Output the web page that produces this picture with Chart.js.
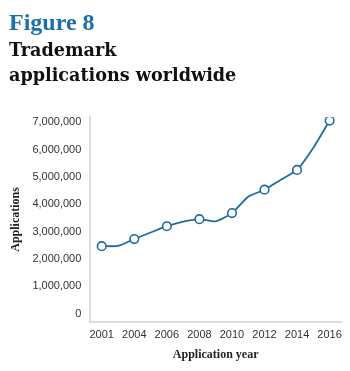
<!DOCTYPE html>
<html>
<head>
<meta charset="utf-8">
<script src="https://cdn.jsdelivr.net/npm/chart.js@4/dist/chart.umd.min.js"></script>
<style>
  html, body { margin: 0; padding: 0; background: #fff; }
  #wrap { position: relative; width: 350px; height: 371px; }
  #head { position: absolute; left: 9px; top: 7px; font-weight: bold; }
  #fig { color: #1b72a8; font-family: "Liberation Serif", serif; font-size: 24px; line-height: 30px; }
  #ttl { color: #111; font-family: "DejaVu Serif", serif; font-size: 17.6px; line-height: 25px; }
  canvas { position: absolute; left: 0; top: 0; }
</style>
</head>
<body>
<div id="wrap">
  <canvas id="c" width="350" height="371"></canvas>
  <div id="head">
    <div id="fig">Figure 8</div>
    <div id="ttl">Trademark<br>applications worldwide</div>
  </div>
</div>
<script>
// Application years along the x axis (one point per year step)
const years = ['2001', '2003', '2004', '2005', '2006', '2007', '2008', '2009',
               '2010', '2011', '2012', '2013', '2014', '2015', '2016'];
// Years that carry a label and a marker
const labelledYears = ['2001', '2004', '2006', '2008', '2010', '2012', '2014', '2016'];
// Trademark applications worldwide
const applications = [2470000, 2480000, 2730000, 2970000, 3200000, 3370000, 3460000, 3380000,
                      3680000, 4280000, 4540000, 4900000, 5260000, 6070000, 7070000];
// Y axis tick values
const yTicks = [0, 1000000, 2000000, 3000000, 4000000, 5000000, 6000000, 7000000];

const blue = '#1f6c9e';
const points = applications.map((v, i) => ({ x: i, y: v }));
const marked = years.map(y => labelledYears.includes(y));

new Chart(document.getElementById('c'), {
  type: 'line',
  data: {
    datasets: [{
      data: points,
      borderColor: blue,
      borderWidth: 1.8,
      backgroundColor: '#fff',
      pointBackgroundColor: '#fff',
      pointBorderColor: blue,
      pointBorderWidth: 1.6,
      pointRadius: marked.map(m => m ? 4.3 : 0),
      pointHoverRadius: marked.map(m => m ? 4.3 : 0),
      tension: 0.2,
      fill: false
    }]
  },
  options: {
    responsive: false,
    animation: false,
    layout: { padding: { top: 117, right: 9, left: 0, bottom: 10 } },
    plugins: { legend: { display: false }, tooltip: { enabled: false } },
    scales: {
      x: {
        type: 'linear',
        min: -0.7,
        max: years.length - 0.3,
        afterBuildTicks: s => {
          s.ticks = years.map((y, i) => ({ value: i })).filter((t, i) => marked[i]);
        },
        grid: { display: false, drawTicks: false },
        border: { display: true, color: '#dcdcdc', width: 2 },
        ticks: {
          autoSkip: false,
          maxRotation: 0,
          padding: 7,
          color: '#333',
          font: { family: '"Liberation Sans", Arial, sans-serif', size: 11 },
          callback: v => years[v]
        },
        title: {
          display: true,
          text: 'Application year',
          color: '#222',
          font: { family: '"Liberation Serif", serif', weight: 'bold', size: 12, lineHeight: 1 },
          padding: { top: 0, bottom: 0 }
        }
      },
      y: {
        min: -300000,
        max: 7200000,
        afterBuildTicks: s => { s.ticks = yTicks.map(v => ({ value: v })); },
        grid: { display: false, drawTicks: false },
        border: { display: true, color: '#dcdcdc', width: 2 },
        ticks: {
          padding: 9,
          color: '#333',
          font: { family: '"Liberation Sans", Arial, sans-serif', size: 11 },
          callback: v => v.toLocaleString('en-US')
        },
        title: {
          display: true,
          text: 'Applications',
          color: '#222',
          font: { family: '"Liberation Serif", serif', weight: 'bold', size: 12 },
          padding: { top: 9, bottom: 0 }
        }
      }
    }
  }
});
</script>
</body>
</html>
